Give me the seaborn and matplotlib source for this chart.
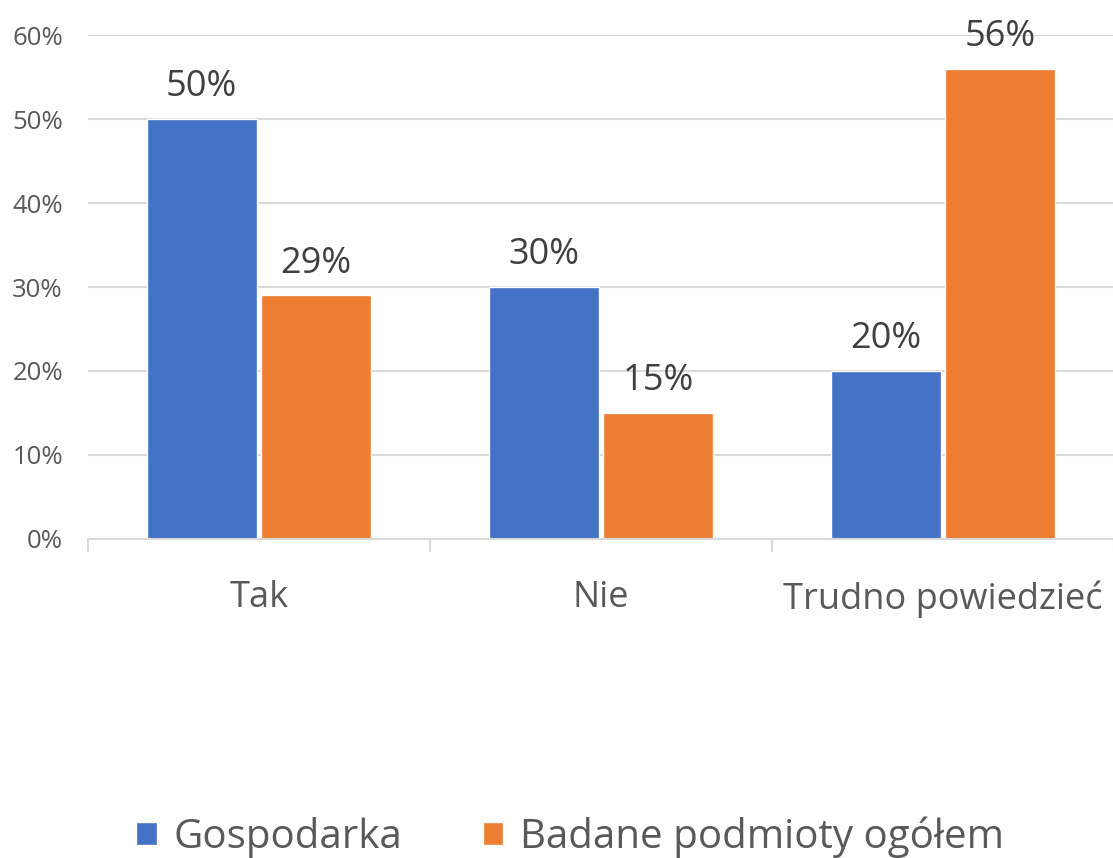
import matplotlib
matplotlib.use("Agg")
import matplotlib.pyplot as plt
import seaborn as sns
import pandas as pd
from matplotlib.ticker import FuncFormatter, FixedLocator

categories = ["Tak", "Nie", "Trudno powiedzieć"]
series_names = ["Gospodarka", "Badane podmioty ogółem"]
gospodarka = [50, 30, 20]
badane = [29, 15, 56]
y_ticks = [0, 10, 20, 30, 40, 50, 60]
colors = ["#4472C4", "#ED7D31"]

df = pd.DataFrame({
    "kategoria": categories * 2,
    "seria": [series_names[0]] * 3 + [series_names[1]] * 3,
    "wartosc": gospodarka + badane,
})

sns.set_theme(style="white")
plt.rcParams["font.family"] = ["Open Sans", "DejaVu Sans"]

fig = plt.figure(figsize=(11.13, 8.58), dpi=100)
ax = fig.add_axes([0.079, 0.372, 0.922, 0.587])

sns.barplot(data=df, x="kategoria", y="wartosc", hue="seria", order=categories,
            hue_order=series_names, palette=colors, width=0.67, gap=0.04,
            edgecolor="white", linewidth=1, saturation=1, ax=ax, legend=True)

ax.set_xlim(-0.5, 2.5)
ax.set_ylim(0, 60)
ax.set_yticks(y_ticks)
ax.yaxis.set_major_formatter(FuncFormatter(lambda v, p: f"{v:.0f}%"))
ax.grid(axis="y", color="#D9D9D9", linewidth=1.5)
ax.set_axisbelow(True)
ax.set_xlabel("")
ax.set_ylabel("")

for s in ["top", "right", "left"]:
    ax.spines[s].set_visible(False)
ax.spines["bottom"].set_color("#D9D9D9")
ax.spines["bottom"].set_linewidth(1.5)

ax.tick_params(axis="y", length=0, pad=18, labelsize=18.5, labelcolor="#595959")
ax.tick_params(axis="x", which="major", length=0, pad=30, labelsize=26, labelcolor="#595959")
ax.xaxis.set_minor_locator(FixedLocator([-0.5, 0.5, 1.5, 2.5]))
ax.tick_params(axis="x", which="minor", bottom=True, length=9, width=1.5,
               color="#D9D9D9", direction="out")

for cont in ax.containers:
    ax.bar_label(cont, fmt="%.0f%%", padding=10, fontsize=26, color="#404040")

handles, labels = ax.get_legend_handles_labels()
ax.get_legend().remove()
fig.legend(handles, labels, loc="lower center", bbox_to_anchor=(0.512, -0.042), ncol=2,
           frameon=False, fontsize=29, handlelength=0.52, handleheight=0.52,
           handletextpad=0.4, columnspacing=2.0, labelcolor="#595959")

fig.savefig("out.png", dpi=100)
